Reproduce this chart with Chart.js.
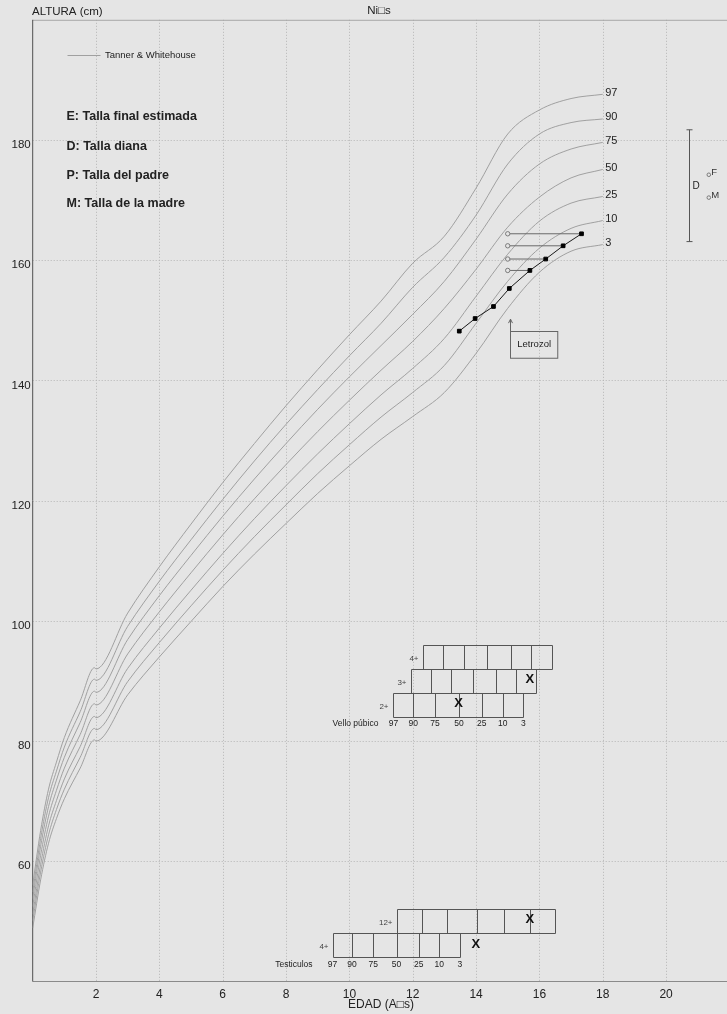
<!DOCTYPE html>
<html>
<head>
<meta charset="utf-8">
<script src="https://cdn.jsdelivr.net/npm/chart.js@4/dist/chart.umd.min.js"></script>
<style>
  html, body { margin: 0; padding: 0; background: #e5e5e5; overflow: hidden; }
  #wrap { position: absolute; left: 0; top: 0; width: 740px; height: 1014px; }
</style>
</head>
<body>
<div id="wrap"><canvas id="growth" width="740" height="1014"></canvas></div>
<script>
// Edades de referencia (años) para las curvas de Tanner & Whitehouse
// (a los 2 años se pasa de longitud en decúbito a talla de pie)
const refAges = [0, 0.25, 0.5, 0.75, 1, 1.5, 1.95, 2, 3, 4, 5, 6, 7, 8, 9, 10, 11, 12, 13, 14, 15, 16, 17, 18];

// Percentiles de talla (cm), niños
const p3  = [48.9, 56.9, 63.0, 67.1, 70.4, 75.5, 80.2, 80.0, 87.7, 94.0, 99.9, 105.7, 111.1, 116.2, 121.2, 125.8, 130.2, 134.0, 138.0, 144.5, 152.0, 158.0, 161.5, 162.6];
const p10 = [50.1, 58.2, 64.4, 68.6, 72.0, 77.3, 82.1, 81.9, 89.9, 96.4, 102.5, 108.4, 114.0, 119.3, 124.5, 129.3, 133.9, 138.0, 142.5, 149.5, 156.5, 162.0, 165.3, 166.6];
const p25 = [51.2, 59.5, 65.9, 70.1, 73.7, 79.1, 84.1, 83.9, 92.1, 98.8, 105.1, 111.2, 117.0, 122.5, 127.8, 132.8, 137.6, 142.0, 147.0, 154.0, 161.0, 166.5, 169.5, 170.6];
const p50 = [52.5, 61.0, 67.5, 71.8, 75.5, 81.1, 86.2, 86.0, 94.5, 101.5, 108.0, 114.3, 120.3, 126.0, 131.5, 136.7, 141.7, 146.5, 152.0, 158.5, 165.5, 170.5, 173.7, 175.1];
const p75 = [53.8, 62.5, 69.1, 73.5, 77.3, 83.1, 88.3, 88.1, 96.9, 104.2, 110.9, 117.4, 123.6, 129.5, 135.2, 140.6, 145.8, 151.0, 156.5, 163.5, 171.0, 176.0, 178.5, 179.6];
const p90 = [54.9, 63.8, 70.6, 75.0, 79.0, 84.9, 90.3, 90.1, 99.1, 106.6, 113.5, 120.2, 126.6, 132.7, 138.5, 144.1, 149.5, 155.5, 160.5, 167.5, 176.0, 181.0, 182.9, 183.5];
const p97 = [56.1, 65.1, 72.0, 76.5, 80.6, 86.7, 92.2, 92.0, 101.3, 109.0, 116.1, 123.0, 129.5, 135.8, 141.8, 147.6, 153.2, 159.5, 164.0, 172.0, 181.0, 185.0, 186.9, 187.6];
const percentileNames = ['3', '10', '25', '50', '75', '90', '97'];

// Mediciones del paciente
const visitAge    = [13.47, 13.97, 14.55, 15.05, 15.70, 16.20, 16.75, 17.33];
const visitHeight = [148.2, 150.3, 152.3, 155.3, 158.3, 160.2, 162.4, 164.4];
const boneAge     = [null, null, null, null, 15.0, 15.0, 15.0, 15.0];

// Talla diana (rango), talla del padre y de la madre
const targetRange = [163.1, 181.7];
const fatherHeight = 174.3;
const motherHeight = 170.5;

// Inicio del tratamiento
const letrozolAge = 15.07;

// Estadios de Tanner: edades de los percentiles 97..3 para cada estadio
const stageNames = ['97', '90', '75', '50', '25', '10', '3'];
const pubic2 = [11.39, 12.02, 12.70, 13.46, 14.18, 14.84, 15.49];
const pubic3 = [11.94, 12.58, 13.21, 13.91, 14.62, 15.25, 15.88];
const pubic4 = [12.33, 12.96, 13.63, 14.35, 15.10, 15.75, 16.40];
const testis4  = [9.47, 10.08, 10.75, 11.49, 12.19, 12.84, 13.49];
const testis12 = [11.49, 12.28, 13.09, 14.02, 14.89, 15.70, 16.50];
const pubicMarkAge = [13.45, 15.70];
const pubicMarkStage = ['2+', '3+'];
const testisMarkAge = [13.99, 15.70];
const testisMarkStage = ['4+', '12+'];

const FONT = '"Liberation Sans", Arial, Helvetica, sans-serif';
Chart.defaults.font.family = FONT;

const curves = [p3, p10, p25, p50, p75, p90, p97];

const datasets = [];
// paciente (encima de todo)
datasets.push({
  data: visitAge.map((a, i) => ({ x: a, y: visitHeight[i] })),
  showLine: true,
  borderColor: '#1a1a1a',
  borderWidth: 1,
  pointRadius: 2.6,
  pointStyle: 'rect',
  pointBackgroundColor: '#000',
  pointBorderColor: '#000',
  order: 0
});
// edad ósea -> edad cronológica
visitAge.forEach((a, i) => {
  if (boneAge[i] == null) return;
  datasets.push({
    data: [{ x: boneAge[i], y: visitHeight[i] }, { x: a, y: visitHeight[i] }],
    showLine: true,
    borderColor: '#6a6a6a',
    borderWidth: 1,
    pointRadius: [2.2, 0],
    pointBackgroundColor: '#e5e5e5',
    pointBorderColor: '#7a7a7a',
    pointBorderWidth: 1,
    order: 1
  });
});
// curvas de percentiles
curves.forEach(c => {
  datasets.push({
    data: refAges.map((a, i) => ({ x: a, y: c[i] })),
    showLine: true,
    borderColor: '#a0a0a0',
    borderWidth: 1,
    pointRadius: 0,
    cubicInterpolationMode: 'monotone',
    order: 2
  });
});

function txt(ctx, s, x, y, font, align, color) {
  ctx.font = font;
  ctx.textAlign = align || 'left';
  ctx.textBaseline = 'middle';
  ctx.fillStyle = color || '#222';
  ctx.fillText(s, x, y);
}

const decorations = {
  id: 'decorations',
  beforeDraw(chart) {
    const ctx = chart.ctx;
    ctx.save();
    ctx.fillStyle = '#e5e5e5';
    ctx.fillRect(0, 0, chart.width, chart.height);
    ctx.restore();
  },
  beforeDatasetsDraw(chart) {
    const { ctx, chartArea: a, scales: { x, y } } = chart;
    ctx.save();
    // rejilla punteada
    ctx.strokeStyle = '#b5b5b5';
    ctx.lineWidth = 1;
    ctx.setLineDash([1, 2]);
    x.ticks.forEach(t => {
      if (t.value <= x.min || t.value >= x.max) return;
      const px = Math.round(x.getPixelForValue(t.value)) + 0.5;
      ctx.beginPath(); ctx.moveTo(px, a.top); ctx.lineTo(px, a.bottom); ctx.stroke();
    });
    y.ticks.forEach(t => {
      if (t.value <= y.min || t.value >= y.max) return;
      const py = Math.round(y.getPixelForValue(t.value)) + 0.5;
      ctx.beginPath(); ctx.moveTo(a.left, py); ctx.lineTo(a.right, py); ctx.stroke();
    });
    ctx.setLineDash([]);
    // ejes y marco superior
    ctx.strokeStyle = '#a8a8a8';
    ctx.beginPath(); ctx.moveTo(a.left, a.top + 0.5); ctx.lineTo(a.right, a.top + 0.5); ctx.stroke();
    ctx.strokeStyle = '#8a8a8a';
    ctx.beginPath(); ctx.moveTo(a.left, a.bottom); ctx.lineTo(a.right, a.bottom); ctx.stroke();
    ctx.strokeStyle = '#505050';
    ctx.beginPath(); ctx.moveTo(a.left, a.top); ctx.lineTo(a.left, a.bottom); ctx.stroke();
    ctx.restore();
  },
  afterDatasetsDraw(chart) {
    const { ctx, chartArea: a, scales: { x, y } } = chart;
    const X = v => x.getPixelForValue(v);
    const Y = v => y.getPixelForValue(v);
    ctx.save();

    // títulos
    txt(ctx, 'ALTURA (cm)', 32, 12, '11.5px ' + FONT, 'left', '#222');
    txt(ctx, 'Ni\u25A1s', 379, 11, '11.5px ' + FONT, 'center', '#222');
    txt(ctx, 'EDAD (A\u25A1s)', (a.left + a.right) / 2, 1005, '12px ' + FONT, 'center', '#222');

    // leyenda
    ctx.strokeStyle = '#a0a0a0'; ctx.lineWidth = 1;
    ctx.beginPath(); ctx.moveTo(67.5, 55.5); ctx.lineTo(100.5, 55.5); ctx.stroke();
    txt(ctx, 'Tanner & Whitehouse', 105, 55, '9.5px ' + FONT, 'left', '#222');

    const notes = ['E: Talla final estimada', 'D: Talla diana', 'P: Talla del padre', 'M: Talla de la madre'];
    const noteY = [117, 146.5, 175.5, 204];
    notes.forEach((s, i) => txt(ctx, s, 66.5, noteY[i], 'bold 12.5px ' + FONT, 'left', '#222'));

    // etiquetas de percentiles al final de cada curva
    const lastAge = refAges[refAges.length - 1];
    curves.forEach((c, i) => {
      txt(ctx, percentileNames[i], X(lastAge) + 2.5, Y(c[c.length - 1]) - 1.6, '11px ' + FONT, 'left', '#222');
    });

    // talla diana
    const dx = Math.round(X(20.71)) + 0.5;
    ctx.strokeStyle = '#555'; ctx.lineWidth = 1;
    ctx.beginPath();
    ctx.moveTo(dx, Y(targetRange[1])); ctx.lineTo(dx, Y(targetRange[0]));
    ctx.moveTo(dx - 3, Y(targetRange[1])); ctx.lineTo(dx + 3, Y(targetRange[1]));
    ctx.moveTo(dx - 3, Y(targetRange[0])); ctx.lineTo(dx + 3, Y(targetRange[0]));
    ctx.stroke();
    txt(ctx, 'D', dx + 3, Y((targetRange[0] + targetRange[1]) / 2) + 1, '10px ' + FONT, 'left', '#222');
    const px = X(21.35);
    [[fatherHeight, 'F'], [motherHeight, 'M']].forEach(([h, s]) => {
      ctx.strokeStyle = '#7a7a7a';
      ctx.beginPath(); ctx.arc(px, Y(h) + 0.5, 1.8, 0, Math.PI * 2); ctx.stroke();
      txt(ctx, s, px + 2.5, Y(h) - 1.8, '9.5px ' + FONT, 'left', '#333');
    });

    // inicio de letrozol
    const lx = Math.round(X(letrozolAge)) + 0.5;
    const bTop = Y(148.2), bBot = Y(143.75), bRight = X(16.58);
    ctx.strokeStyle = '#666';
    ctx.strokeRect(lx, Math.round(bTop) + 0.5, bRight - lx, bBot - bTop);
    ctx.beginPath();
    ctx.moveTo(lx, bTop); ctx.lineTo(lx, Y(150.2));
    ctx.moveTo(lx - 2, Y(150.2) + 4); ctx.lineTo(lx, Y(150.2)); ctx.lineTo(lx + 2, Y(150.2) + 4);
    ctx.stroke();
    txt(ctx, 'Letrozol', (lx + bRight) / 2, (bTop + bBot) / 2, '9.5px ' + FONT, 'center', '#222');

    // bloques de desarrollo puberal
    function stageRows(rows, labelAges, labelY, title, titleGap, marksAge, marksStage) {
      rows.forEach(r => {
        const yt = Math.round(Y(r.top)) + 0.5, yb = Math.round(Y(r.bottom)) + 0.5;
        ctx.strokeStyle = '#555'; ctx.lineWidth = 1;
        const xs = r.ages.map(v => Math.round(X(v)) + 0.5);
        ctx.beginPath();
        ctx.moveTo(xs[0], yt); ctx.lineTo(xs[xs.length - 1], yt);
        ctx.moveTo(xs[0], yb); ctx.lineTo(xs[xs.length - 1], yb);
        xs.forEach(px2 => { ctx.moveTo(px2, yt); ctx.lineTo(px2, yb); });
        ctx.stroke();
        txt(ctx, r.name, xs[0] - 5, (yt + yb) / 2 + 1, '8px ' + FONT, 'right', '#444');
      });
      labelAges.forEach((v, i) => txt(ctx, stageNames[i], X(v), Y(labelY), '8.5px ' + FONT, 'center', '#222'));
      txt(ctx, title, X(labelAges[0]) - titleGap, Y(labelY), '8.5px ' + FONT, 'right', '#222');
      marksAge.forEach((v, i) => {
        const r = rows.find(rr => rr.name === marksStage[i]);
        txt(ctx, 'X', X(v), (Y(r.top) + Y(r.bottom)) / 2 - 1.5, 'bold 13px ' + FONT, 'center', '#111');
      });
    }
    stageRows([
      { name: '2+', ages: pubic2, top: 88, bottom: 84 },
      { name: '3+', ages: pubic3, top: 92, bottom: 88 },
      { name: '4+', ages: pubic4, top: 96, bottom: 92 }
    ], pubic2, 82.9, 'Vello p\u00fabico', 15, pubicMarkAge, pubicMarkStage);
    stageRows([
      { name: '4+', ages: testis4, top: 48, bottom: 44 },
      { name: '12+', ages: testis12, top: 52, bottom: 48 }
    ], testis4, 42.85, 'Testiculos', 20, testisMarkAge, testisMarkStage);

    ctx.restore();
  }
};

new Chart(document.getElementById('growth'), {
  type: 'scatter',
  data: { datasets },
  options: {
    responsive: false,
    animation: false,
    devicePixelRatio: 1,
    layout: { padding: { left: 0, right: 10.6, top: 19.8, bottom: 0 } },
    plugins: { legend: { display: false }, tooltip: { enabled: false } },
    scales: {
      x: {
        type: 'linear', min: 0, max: 22,
        afterFit(s) { s.height = 32.5; },
        grid: { display: false, drawTicks: false },
        border: { display: false },
        ticks: {
          stepSize: 2, padding: 6, color: '#222', font: { size: 12 },
          maxRotation: 0, autoSkip: false,
          callback: v => (v > 0 && v < 22) ? String(v) : ''
        }
      },
      y: {
        type: 'linear', min: 40, max: 200,
        afterFit(s) { s.width = 32.7; },
        grid: { display: false, drawTicks: false },
        border: { display: false },
        ticks: {
          stepSize: 20, padding: 2, labelOffset: 5, color: '#222', font: { size: 11.5 },
          autoSkip: false,
          callback: v => (v >= 60 && v <= 180) ? String(v) : ''
        }
      }
    }
  },
  plugins: [decorations]
});
</script>
</body>
</html>
